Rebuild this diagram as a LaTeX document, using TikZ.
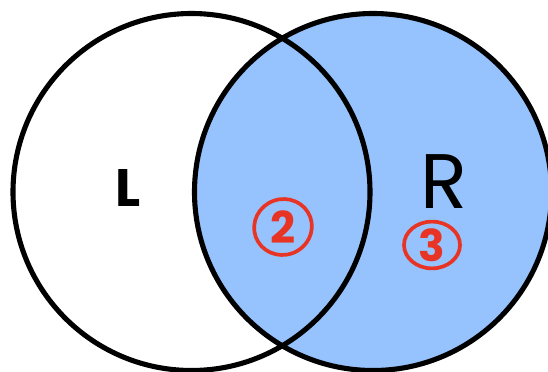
\documentclass[tikz,border=0pt]{standalone}
\usepackage{fontspec}
\setmainfont{Poppins}
\usetikzlibrary{shapes.geometric}
\definecolor{setblue}{RGB}{150,195,253}
\definecolor{markred}{RGB}{232,52,36}
\tikzset{
  setline/.style={draw=black, line width=2.9pt},
  setlabel/.style={font=\fontsize{#1}{#1}\selectfont, text=black, inner sep=0pt},
  ringed/.style={ellipse, draw=markred, line width=2.1pt, text=markred,
    font=\bfseries\fontsize{25}{25}\selectfont, inner sep=0pt}
}
\begin{document}
\begin{tikzpicture}[x=0.02cm, y=-0.02cm]
\useasboundingbox (0,0) rectangle (548,372);
\clip (0,0) rectangle (548,372);
\fill[white] (0,0) rectangle (548,372);
\fill[setblue] (373,192) circle[radius=178.5];
\draw[setline] (191.5,192) circle[radius=178.5];
\draw[setline] (373,192) circle[radius=178.5];
\node[setlabel=30, font=\bfseries\fontsize{30}{30}\selectfont] (l) at (128,188) {L};
\node[setlabel=44] (r) at (444,182) {R};
\node[ringed, minimum width=58*0.02cm, minimum height=48*0.02cm, rotate=20] (two) at (283,227) {\rotatebox{-20}{2}};
\node[ringed, minimum width=56*0.02cm, minimum height=44*0.02cm] (three) at (432,245) {3};
\end{tikzpicture}
\end{document}
